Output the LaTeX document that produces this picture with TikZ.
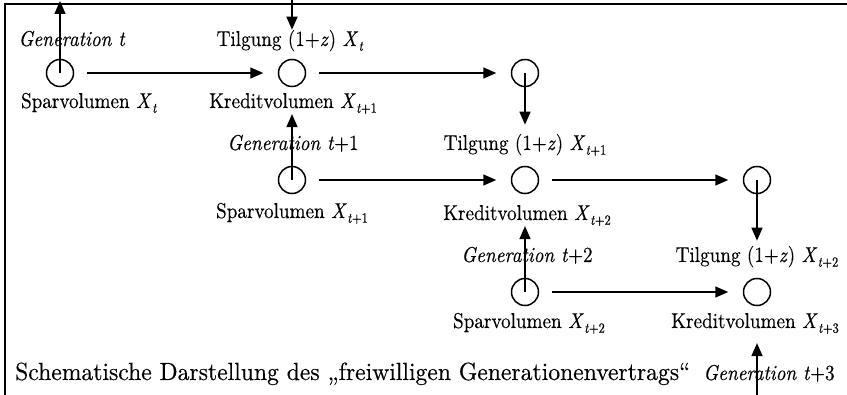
\documentclass[tikz,border=0pt]{standalone}
\usepackage{graphicx}
\usepackage{fontspec}
\setmainfont{lmroman10-regular.otf}[ItalicFont=lmroman10-italic.otf,BoldFont=lmroman10-bold.otf,FakeBold=0.35]
\usetikzlibrary{arrows.meta}
\newcommand{\lbtxt}[1]{\scalebox{0.89}[1]{#1}}
\newcommand{\Xs}[1]{\textit{X}\kern0.5pt\raisebox{-0.22em}{\fontsize{14}{16}\selectfont #1}}
\begin{document}
\begin{tikzpicture}[x=1pt,y=-1pt,
  circ/.style={circle,draw,line width=1.5pt,minimum size=27pt,inner sep=0pt},
  arr/.style={line width=1.5pt,-{Triangle[length=13pt,width=11pt]}},
  harr/.style={arr,shorten <=12.5pt,shorten >=14.5pt},
  lbl/.style={inner sep=0pt,anchor=base,font=\fontsize{21.5}{25}\selectfont},
  frameline/.style={line width=1.8pt}]
\useasboundingbox (0,0) rectangle (847,395);
% frame (cropped box)
\draw[frameline] (5,395) -- (5,4) -- (847,4);

% circles
\node[circ] (c1) at (60,73) {};
\node[circ] (c2) at (292,73) {};
\node[circ] (c3) at (525,73) {};
\node[circ] (c4) at (292,180) {};
\node[circ] (c5) at (525,180) {};
\node[circ] (c6) at (757,180) {};
\node[circ] (c7) at (525,292) {};
\node[circ] (c8) at (757,292) {};

% labels
\node[lbl] (gen1)  at (72,46)   {\lbtxt{\textit{Generation t}}};
\node[lbl] (spar1) at (89,108)  {\lbtxt{Sparvolumen \Xs{\textit{t}}}};
\node[lbl] (tilg1) at (290,46)  {\lbtxt{Tilgung (1+\textit{z}) \Xs{\textit{t}}}};
\node[lbl] (kred1) at (293,108) {\lbtxt{Kreditvolumen \Xs{\textit{t}+1}}};
\node[lbl] (gen2)  at (293,150) {\lbtxt{\textit{Generation t}+1}};
\node[lbl] (tilg2) at (525,150) {\lbtxt{Tilgung (1+\textit{z}) \Xs{\textit{t}+1}}};
\node[lbl] (spar2) at (292,218) {\lbtxt{Sparvolumen \Xs{\textit{t}+1}}};
\node[lbl] (kred2) at (527,220) {\lbtxt{Kreditvolumen \Xs{\textit{t}+2}}};
\node[lbl] (gen3)  at (527,262) {\lbtxt{\textit{Generation t}+2}};
\node[lbl] (tilg3) at (757,262) {\lbtxt{Tilgung (1+\textit{z}) \Xs{\textit{t}+2}}};
\node[lbl] (spar3) at (529,328) {\lbtxt{Sparvolumen \Xs{\textit{t}+2}}};
\node[lbl] (kred3) at (755,328) {\lbtxt{Kreditvolumen \Xs{\textit{t}+3}}};
\node[lbl] (gen4)  at (769,380) {\lbtxt{\textit{Generation t}+3}};
\node[inner sep=0pt,anchor=base west] (cap) at (15,380)
  {\resizebox{675pt}{17.5pt}{Schematische Darstellung des \quotedblbase freiwilligen Generationenvertrags\textquotedblleft}};

% free ends
\coordinate (up1) at (60,1);
\coordinate (dn1) at (292,-2);
\coordinate (bt1) at (757,397);

% horizontal arrows
\draw[harr] (c1) -- (c2);
\draw[harr] (c2) -- (c3);
\draw[harr] (c4) -- (c5);
\draw[harr] (c5) -- (c6);
\draw[harr] (c7) -- (c8);

% vertical arrows
\draw[arr] (c1.center) -- (up1);
\draw[arr] (dn1) -- (tilg1.north -| c2);
\draw[arr,shorten >=9pt] (c3.center) -- (tilg2.north -| c3);
\draw[arr] (c4.center) -- (kred1.south -| c4);
\draw[arr,shorten >=5pt] (c6.center) -- (tilg3.north -| c6);
\draw[arr] (c7.center) -- (kred2.south -| c7);
\draw[arr,shorten >=9pt] (bt1) -- (kred3.south -| c8);
\end{tikzpicture}
\end{document}
